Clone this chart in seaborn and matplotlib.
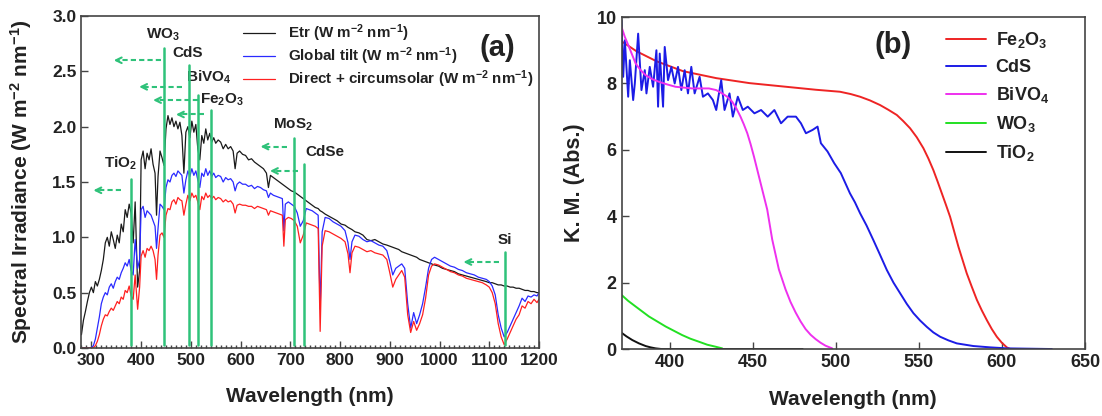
import numpy as np
import pandas as pd
import matplotlib
matplotlib.use("Agg")
import matplotlib.pyplot as plt
from matplotlib.ticker import MultipleLocator, FormatStrFormatter
import seaborn as sns

# ---------------- data: panel (a) solar spectra ----------------
wl = [280, 284, 288, 292, 296, 300, 304, 308, 312, 316,
      320, 324, 328, 332, 336, 340, 344, 348, 352, 356,
      360, 364, 368, 372, 376, 380, 384, 388, 393, 397,
      400, 404, 408, 412, 416, 420, 424, 428, 431, 434,
      438, 442, 446, 450, 454, 458, 462, 466, 470, 474,
      478, 482, 486, 490, 494, 498, 502, 506, 510, 514,
      518, 522, 526, 530, 534, 538, 542, 546, 550, 555,
      560, 565, 570, 575, 580, 585, 589, 593, 598, 604,
      610, 616, 622, 628, 634, 640, 646, 652, 656, 660,
      666, 672, 678, 684, 687, 690, 696, 702, 708, 714,
      720, 726, 732, 738, 744, 750, 756, 760, 764, 770,
      778, 786, 794, 802, 810, 816, 820, 824, 830, 838,
      846, 854, 862, 870, 878, 886, 894, 900, 906, 912,
      918, 924, 930, 936, 942, 948, 954, 960, 966, 972,
      978, 984, 990, 998, 1006, 1014, 1022, 1030, 1038, 1046,
      1054, 1062, 1070, 1078, 1086, 1094, 1100, 1106, 1112, 1118,
      1124, 1130, 1136, 1142, 1148, 1154, 1160, 1166, 1172, 1178,
      1184, 1190, 1196, 1200]

etr = [0.12, 0.25, 0.33, 0.42, 0.50, 0.55, 0.50, 0.60, 0.56, 0.62,
       0.70, 0.80, 0.95, 1.00, 0.92, 1.05, 0.98, 0.90, 1.02, 0.95,
       1.12, 1.05, 1.25, 1.18, 1.30, 1.22, 0.95, 1.32, 0.55, 0.70,
       1.70, 1.78, 1.62, 1.76, 1.70, 1.80, 1.66, 1.58, 1.20, 1.55,
       1.78, 1.72, 1.65, 1.98, 2.10, 2.02, 2.08, 2.00, 2.05, 1.98,
       2.04, 1.92, 1.58, 1.95, 2.00, 1.90, 2.05, 1.95, 2.02, 1.80,
       1.70, 1.92, 1.85, 1.98, 1.88, 1.94, 1.86, 1.90, 1.85, 1.88,
       1.86, 1.80, 1.84, 1.80, 1.82, 1.78, 1.62, 1.76, 1.78, 1.75,
       1.74, 1.70, 1.71, 1.68, 1.66, 1.64, 1.62, 1.58, 1.45, 1.56,
       1.54, 1.52, 1.50, 1.48, 1.47, 1.46, 1.44, 1.42, 1.41, 1.39,
       1.37, 1.35, 1.33, 1.31, 1.29, 1.27, 1.26, 1.24, 1.23, 1.21,
       1.19, 1.17, 1.15, 1.12, 1.11, 1.09, 1.08, 1.07, 1.05, 1.04,
       1.02, 0.98, 0.97, 0.98, 0.96, 0.94, 0.93, 0.92, 0.91, 0.90,
       0.89, 0.87, 0.86, 0.85, 0.84, 0.83, 0.82, 0.80, 0.79, 0.78,
       0.77, 0.76, 0.75, 0.74, 0.72, 0.71, 0.70, 0.69, 0.67, 0.66,
       0.65, 0.64, 0.63, 0.62, 0.61, 0.60, 0.59, 0.59, 0.58, 0.57,
       0.57, 0.56, 0.56, 0.55, 0.55, 0.54, 0.54, 0.53, 0.52, 0.52,
       0.51, 0.51, 0.50, 0.50]

global_tilt = [0, 0, 0, 0, 0, 0.005, 0.02, 0.08, 0.18, 0.28,
               0.40, 0.46, 0.50, 0.48, 0.55, 0.58, 0.54, 0.60, 0.64, 0.62,
               0.68, 0.72, 0.77, 0.74, 0.80, 0.70, 0.66, 0.98, 0.72, 0.80,
               1.25, 1.28, 1.18, 1.24, 1.22, 1.20, 1.15, 1.10, 0.90, 1.08,
               1.30, 1.28, 1.25, 1.45, 1.52, 1.50, 1.56, 1.58, 1.55, 1.60,
               1.58, 1.56, 1.40, 1.52, 1.60, 1.55, 1.62, 1.56, 1.60, 1.52,
               1.45, 1.58, 1.55, 1.62, 1.56, 1.60, 1.55, 1.58, 1.54, 1.56,
               1.55, 1.50, 1.54, 1.52, 1.53, 1.50, 1.42, 1.48, 1.50, 1.48,
               1.48, 1.46, 1.47, 1.44, 1.46, 1.45, 1.43, 1.42, 1.36, 1.40,
               1.38, 1.37, 1.36, 1.35, 1.06, 1.30, 1.32, 1.30, 1.28, 1.22,
               1.10, 1.15, 1.26, 1.25, 1.24, 1.22, 1.20, 0.35, 1.05, 1.18,
               1.17, 1.14, 1.12, 1.10, 1.06, 0.95, 0.80, 0.96, 1.02, 1.01,
               0.98, 0.96, 0.97, 0.95, 0.93, 0.92, 0.88, 0.78, 0.66, 0.72,
               0.74, 0.76, 0.72, 0.40, 0.18, 0.32, 0.22, 0.30, 0.40, 0.55,
               0.72, 0.80, 0.82, 0.80, 0.78, 0.76, 0.74, 0.73, 0.71, 0.70,
               0.68, 0.67, 0.66, 0.64, 0.63, 0.62, 0.60, 0.56, 0.48, 0.30,
               0.18, 0.10, 0.14, 0.20, 0.26, 0.32, 0.38, 0.45, 0.42, 0.47,
               0.46, 0.48, 0.47, 0.50]

direct_circ = [0, 0, 0, 0, 0, 0, 0.005, 0.02, 0.06, 0.12,
               0.20, 0.26, 0.30, 0.29, 0.33, 0.36, 0.34, 0.38, 0.42, 0.40,
               0.46, 0.44, 0.52, 0.50, 0.56, 0.47, 0.44, 0.66, 0.35, 0.55,
               0.83, 0.88, 0.82, 0.90, 0.88, 0.92, 0.88, 0.80, 0.62, 0.84,
               1.02, 1.04, 1.00, 1.20, 1.26, 1.25, 1.32, 1.34, 1.30, 1.36,
               1.34, 1.33, 1.20, 1.30, 1.38, 1.33, 1.40, 1.36, 1.38, 1.32,
               1.25, 1.37, 1.34, 1.40, 1.36, 1.38, 1.35, 1.37, 1.34, 1.36,
               1.35, 1.32, 1.34, 1.32, 1.33, 1.30, 1.22, 1.29, 1.30, 1.29,
               1.29, 1.28, 1.28, 1.26, 1.28, 1.27, 1.26, 1.25, 1.20, 1.24,
               1.23, 1.22, 1.21, 1.20, 0.92, 1.16, 1.18, 1.17, 1.15, 1.10,
               0.95, 1.02, 1.13, 1.12, 1.11, 1.10, 1.08, 0.15, 0.92, 1.06,
               1.05, 1.03, 1.01, 0.99, 0.96, 0.85, 0.68, 0.86, 0.92, 0.91,
               0.89, 0.87, 0.88, 0.86, 0.85, 0.84, 0.80, 0.68, 0.55, 0.62,
               0.66, 0.70, 0.64, 0.30, 0.14, 0.24, 0.16, 0.22, 0.30, 0.45,
               0.66, 0.74, 0.76, 0.75, 0.73, 0.71, 0.69, 0.68, 0.66, 0.65,
               0.63, 0.62, 0.61, 0.60, 0.59, 0.57, 0.55, 0.50, 0.40, 0.22,
               0.10, 0.03, 0.08, 0.14, 0.20, 0.26, 0.30, 0.38, 0.36, 0.42,
               0.40, 0.44, 0.41, 0.44]

# band-gap absorption edges marked in panel (a)
materials = ["TiO$_2$", "WO$_3$", "CdS", "BiVO$_4$", "Fe$_2$O$_3$", "MoS$_2$", "CdSe", "Si"]
edge_nm = [380, 447, 497, 515, 540, 707, 727, 1132]

# ---------------- data: panel (b) Kubelka-Munk spectra ----------------
fe2o3_wl = [371, 380, 392, 408, 428, 448, 468, 488, 502.5, 509,
            514.6, 520.5, 526.6, 531.5, 536.7, 540.5, 544.7, 548.7, 552.7, 555.7,
            558.7, 561.3, 563.8, 566.3, 568.8, 571.3, 573.8, 576.3, 578.8, 581.8,
            584.9, 587.9, 590.9, 593.9, 596.9, 599.9, 602.9, 605]
fe2o3_km = [9.27, 8.97, 8.67, 8.37, 8.16, 8.01, 7.91, 7.81, 7.75, 7.68,
            7.60, 7.49, 7.35, 7.21, 7.05, 6.87, 6.65, 6.38, 6.05, 5.74,
            5.39, 5.04, 4.69, 4.34, 3.98, 3.53, 3.08, 2.68, 2.28, 1.88,
            1.48, 1.16, 0.87, 0.60, 0.37, 0.19, 0.05, 0.0]

cds_wl = [371, 372, 373, 375, 376, 378, 379, 381, 383, 385,
          386, 388, 390, 392, 393, 394, 396, 397, 399, 401,
          403, 405, 407, 409, 411, 413, 415, 418, 420, 423,
          426, 428, 431, 433, 436, 438, 441, 444, 447, 451,
          455, 459, 463, 467, 471, 476, 479, 482, 486, 489,
          491, 495, 499, 503, 508.5, 511.5, 514.6, 518.5, 522.6, 526.5,
          530.7, 534.7, 538.7, 542.7, 546.7, 550.7, 554.7, 558.7, 562.8, 567.8,
          572.8, 582.8, 592.9, 602.9, 630]
cds_km = [9.9, 8.2, 9.3, 7.6, 8.7, 7.5, 8.0, 9.5, 7.8, 8.4,
          7.7, 8.5, 7.9, 9.0, 7.3, 8.9, 7.3, 9.1, 8.1, 8.5,
          8.0, 8.5, 7.8, 8.4, 7.7, 8.5, 7.7, 8.2, 7.6, 7.7,
          7.5, 7.2, 8.1, 7.2, 7.7, 7.0, 7.6, 7.2, 7.3, 7.1,
          7.2, 7.0, 7.2, 6.8, 7.0, 7.0, 6.8, 6.5, 6.6, 6.7,
          6.2, 5.95, 5.6, 5.3, 4.69, 4.42, 4.09, 3.72, 3.28, 2.85,
          2.38, 2.00, 1.68, 1.36, 1.08, 0.86, 0.67, 0.50, 0.37, 0.26,
          0.17, 0.09, 0.05, 0.02, 0.0]

bivo4_wl = [371, 373, 375.5, 377.5, 379.5, 382.5, 385.5, 389.5, 393.5, 398.5,
            403.5, 413.5, 423.6, 428, 431.6, 434.6, 437.6, 440.1, 442.6, 444.6,
            446.7, 448.7, 450.7, 452.7, 454.7, 456.7, 458.7, 460.2, 461.7, 463.7,
            465.7, 467.7, 469.7, 472.7, 475.8, 478.8, 481.8, 484.8, 487.8, 490.8,
            493.8, 497.8]
bivo4_km = [9.7, 9.4, 9.1, 8.85, 8.6, 8.4, 8.25, 8.13, 8.05, 7.97,
            7.9, 7.85, 7.85, 7.8, 7.7, 7.6, 7.45, 7.25, 7.0, 6.77,
            6.5, 6.17, 5.8, 5.4, 5.0, 4.6, 4.2, 3.75, 3.3, 2.85,
            2.4, 2.1, 1.8, 1.42, 1.1, 0.83, 0.6, 0.43, 0.3, 0.19,
            0.1, 0.02]

wo3_wl = [371, 375, 379.5, 383.5, 387.5, 392.5, 397.5, 402.5, 407.5, 412.5, 417.6, 422.6, 427.6, 431.6]
wo3_km = [1.63, 1.45, 1.28, 1.13, 0.98, 0.83, 0.68, 0.55, 0.42, 0.31, 0.22, 0.13, 0.07, 0.02]

tio2_wl = [371, 374, 377.5, 381.5, 385.5, 388.5, 391.5, 395, 400, 440, 480]
tio2_km = [0.49, 0.38, 0.27, 0.17, 0.09, 0.05, 0.02, 0.0, 0.0, 0.0, 0.0]

# ---------------- style ----------------
sns.set_theme(style="ticks")
plt.rcParams["font.family"] = ["Liberation Sans", "DejaVu Sans"]
plt.rcParams["font.weight"] = "bold"
plt.rcParams["axes.labelweight"] = "bold"
plt.rcParams["mathtext.fontset"] = "custom"
plt.rcParams["mathtext.rm"] = "Liberation Sans:bold"
plt.rcParams["mathtext.it"] = "Liberation Sans:bold"
plt.rcParams["mathtext.bf"] = "Liberation Sans:bold"
plt.rcParams["mathtext.default"] = "rm"

GREEN = "#2fc27a"
SPINE = "#444444"
TXT = "#222222"

fig = plt.figure(figsize=(11.02, 4.16), dpi=100)
axa = fig.add_axes([0.0739, 0.1635, 0.4152, 0.798])
axb = fig.add_axes([0.564, 0.161, 0.4206, 0.798])

# ---------------- panel (a) ----------------
spec = pd.DataFrame({"wl": wl, "Etr": etr, "Global": global_tilt, "Direct": direct_circ})
sns.lineplot(data=spec, x="wl", y="Etr", ax=axa, color="#1a1a1a", lw=0.9,
             label="Etr (W m$^{-2}$ nm$^{-1}$)", estimator=None)
sns.lineplot(data=spec, x="wl", y="Global", ax=axa, color="#2a2aff", lw=0.9,
             label="Global tilt (W m$^{-2}$ nm$^{-1}$)", estimator=None)
sns.lineplot(data=spec, x="wl", y="Direct", ax=axa, color="#ff2020", lw=0.9,
             label="Direct + circumsolar (W m$^{-2}$ nm$^{-1}$)", estimator=None)

line_top = [1.53, 2.71, 2.56, 2.29, 2.15, 1.90, 1.66, 0.865]
arrow_from = [359, 440, 483, 514, 527, 693, 716, 1119]
arrow_to = [304, 345, 396, 424, 470, 640, 659, 1048]
arrow_y = [1.425, 2.60, 2.36, 2.24, 2.11, 1.82, 1.60, 0.777]
label_xy = [(359, 1.67), (443, 2.83), (493, 2.67), (535, 2.45), (563, 2.24),
            (705, 2.02), (769, 1.77), (1131, 0.98)]
for name, e, top, a0, a1, ay, (lx, ly) in zip(materials, edge_nm, line_top, arrow_from,
                                               arrow_to, arrow_y, label_xy):
    axa.plot([e, e], [0.03, top], color=GREEN, lw=1.8, zorder=5)
    axa.plot([a0, a1 + 6], [ay, ay], color=GREEN, lw=1.5, ls=(0, (2.5, 1.5)), zorder=5)
    axa.annotate("", xy=(a1, ay), xytext=(a1 + 10, ay),
                 arrowprops=dict(arrowstyle="->", color=GREEN, lw=1.5,
                                 mutation_scale=10, shrinkA=0, shrinkB=0), zorder=5)
    axa.text(lx, ly, name, ha="center", va="center", fontsize=11,
             fontweight="bold", color=TXT)

axa.set_xlim(280, 1200)
axa.set_ylim(0, 3.0)
axa.xaxis.set_major_locator(MultipleLocator(100))
axa.xaxis.set_minor_locator(MultipleLocator(10))
axa.yaxis.set_major_locator(MultipleLocator(0.5))
axa.yaxis.set_major_formatter(FormatStrFormatter("%.1f"))
axa.set_xlabel("Wavelength (nm)", fontsize=15, labelpad=14)
axa.set_ylabel("Spectral Irradiance (W m$^{-2}$ nm$^{-1}$)", fontsize=15, labelpad=13)
axa.text(0.91, 0.905, "(a)", transform=axa.transAxes, fontsize=21, fontweight="bold",
         ha="center", va="center", color=TXT)
leg = axa.legend(loc="upper left", bbox_to_anchor=(0.353, 0.98), frameon=False,
                 fontsize=10.9, handlelength=2.1, handletextpad=0.86, labelspacing=0.1,
                 borderpad=0, borderaxespad=0)
for t in leg.get_texts():
    t.set_fontweight("bold")
    t.set_color(TXT)

# ---------------- panel (b) ----------------
km_sets = [("Fe$_2$O$_3$", fe2o3_wl, fe2o3_km, "#ee2424"),
           ("CdS", cds_wl, cds_km, "#1c1ce6"),
           ("BiVO$_4$", bivo4_wl, bivo4_km, "#ee30ee"),
           ("WO$_3$", wo3_wl, wo3_km, "#22e022"),
           ("TiO$_2$", tio2_wl, tio2_km, "#111111")]
for name, xs, ys, col in km_sets:
    df = pd.DataFrame({"wl": xs, "km": ys})
    sns.lineplot(data=df, x="wl", y="km", ax=axb, color=col, lw=1.4, label=name,
                 estimator=None)

axb.set_xlim(371, 650)
axb.set_ylim(0, 10)
axb.xaxis.set_major_locator(MultipleLocator(50))
axb.yaxis.set_major_locator(MultipleLocator(2))
axb.set_xlabel("Wavelength (nm)", fontsize=15, labelpad=14)
axb.set_ylabel("K. M. (Abs.)", fontsize=15.5, labelpad=8)
axb.text(0.585, 0.915, "(b)", transform=axb.transAxes, fontsize=21, fontweight="bold",
         ha="center", va="center", color=TXT)
legb = axb.legend(loc="upper left", bbox_to_anchor=(0.70, 0.96), frameon=False,
                  fontsize=13, handlelength=2.2, handletextpad=0.55, labelspacing=0.5,
                  borderpad=0, borderaxespad=0)
for t in legb.get_texts():
    t.set_color(TXT)

for ax, ls in ((axa, 12.5), (axb, 13)):
    for s in ax.spines.values():
        s.set_color(SPINE)
        s.set_linewidth(1.2)
    ax.tick_params(which="both", direction="in", colors=SPINE, labelcolor=TXT,
                   labelsize=ls, width=1.0)
    ax.tick_params(which="major", length=5)
    ax.tick_params(which="minor", length=2.5)
    for lab in ax.get_xticklabels() + ax.get_yticklabels():
        lab.set_fontweight("bold")
    ax.xaxis.label.set_color(TXT)
    ax.yaxis.label.set_color(TXT)

fig.savefig("out.png", dpi=100)
